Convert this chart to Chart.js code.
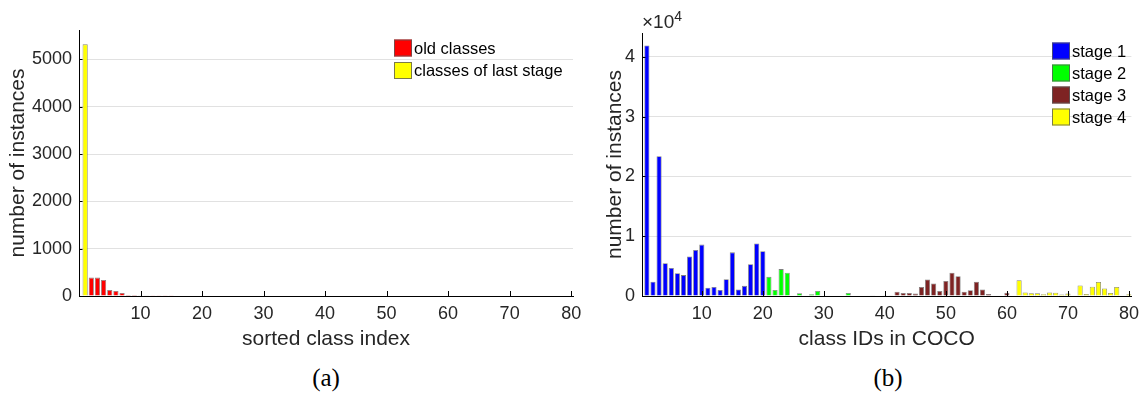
<!DOCTYPE html>
<html>
<head>
<meta charset="utf-8">
<script src="https://cdn.jsdelivr.net/npm/chart.js@4/dist/chart.umd.min.js"></script>
<style>
  body { margin: 0; background: #fff; width: 1146px; height: 398px; overflow: hidden; position: relative; font-family: "Liberation Sans", Arial, sans-serif; }
  .box { position: absolute; top: 0; height: 360px; }
  .cap { position: absolute; top: 364px; font: 25px "Liberation Serif", serif; color: #000; transform: translateX(-50%); }
  .exp { position: absolute; left: 642px; top: 8px; font-size: 19px; color: #262626; }
  .exp sup { font-size: 14px; }
</style>
</head>
<body>
<div class="box" style="left:0;width:590px"><canvas id="chartA"></canvas></div>
<div class="box" style="left:590px;width:556px"><canvas id="chartB"></canvas></div>
<div class="exp">×10<sup>4</sup></div>
<div class="cap" style="left:326px">(a)</div>
<div class="cap" style="left:888px">(b)</div>
<script>
// (a) sorted class index -> number of instances
const lastStageCounts = [5317];               // sorted index 1
const oldClassCounts = [389, 389, 339, 127, 106, 64, 21, 21, 7, 6, 5, 5, 4, 3,
  0, 0, 0, 0, 0, 0, 0, 0, 0, 0, 0, 0, 0, 0, 0, 0, 0, 0, 0, 0, 0, 0, 0, 0, 0, 0,
  0, 0, 0, 0, 0, 0, 0, 0, 0, 0, 0, 0, 0, 0, 0, 0, 0, 0, 0, 0, 0, 0, 0, 0, 0, 0,
  0, 0, 0, 0, 0, 0, 0, 0, 0, 0, 0, 0, 0];     // sorted index 2..80

// (b) class IDs in COCO -> number of instances
const stage1Counts = [41900, 2400, 23400, 5500, 4700, 3800, 3500, 6600, 7700, 8600,
  1400, 1500, 1000, 2800, 7300, 1100, 1700, 5300, 8800, 7500];   // ids 1-20
const stage2Counts = [3200, 1000, 4500, 3900, 100, 450, 100, 300, 850, 0,
  0, 0, 100, 500, 0, 0, 0, 50, 0, 50];                              // ids 21-40
const stage3Counts = [50, 700, 500, 500, 400, 1500, 2750, 2100, 850, 2500,
  3900, 3300, 700, 950, 2400, 1100, 350, 100, 100, 550];            // ids 41-60
const stage4Counts = [100, 2650, 600, 450, 450, 300, 600, 550, 250, 400,
  0, 1750, 350, 1550, 2350, 1250, 500, 1500, 0, 300];               // ids 61-80

const xTicks = [10, 20, 30, 40, 50, 60, 70, 80];
const yTicksA = [0, 1000, 2000, 3000, 4000, 5000];
const yTicksB = [0, 10000, 20000, 30000, 40000];

const FONT = '"Liberation Sans", Arial, sans-serif';
const TXT = '#262626';

function pts(values, firstId) {
  return values.map((v, i) => ({ x: firstId + i, y: v }));
}

function barSet(label, data, color, edge) {
  return {
    label, data,
    backgroundColor: color,
    borderColor: edge || 'rgba(95,95,95,0.8)',
    borderWidth: 0.8,
    borderSkipped: 'bottom',
    barPercentage: 0.84,
    categoryPercentage: 1,
    grouped: false
  };
}

// legend drawn inside the plot, top right like matlab
const boxLegend = {
  id: 'boxLegend',
  afterDraw(chart, args, o) {
    const ctx = chart.ctx;
    ctx.save();
    ctx.font = '16.5px ' + FONT;
    ctx.textBaseline = 'middle';
    chart.data.datasets.forEach((ds, i) => {
      const y = o.y + i * o.step;
      ctx.fillStyle = ds.backgroundColor;
      ctx.fillRect(o.x, y - 8.5, 18, 17);
      ctx.strokeStyle = 'rgba(90,90,90,0.8)';
      ctx.lineWidth = 1;
      ctx.strokeRect(o.x + 0.5, y - 8, 17, 16);
      ctx.fillStyle = '#000';
      ctx.fillText(ds.label, o.x + 20, y + 1);
    });
    ctx.restore();
  }
};

// inward tick marks
const inTicks = {
  id: 'inTicks',
  afterDatasetsDraw(chart) {
    const { ctx, scales: { x, y }, chartArea: a } = chart;
    ctx.save();
    ctx.strokeStyle = '#000';
    ctx.lineWidth = 1;
    ctx.beginPath();
    xTicks.forEach(v => {
      const px = Math.round(x.getPixelForValue(v)) + 0.5;
      ctx.moveTo(px, a.bottom);
      ctx.lineTo(px, a.bottom - 5);
    });
    y.ticks.forEach(t => {
      if (t.value === 0) return;
      const py = Math.round(y.getPixelForValue(t.value)) + 0.5;
      ctx.moveTo(a.left, py);
      ctx.lineTo(a.left + 3.5, py);
    });
    ctx.stroke();
    ctx.restore();
  }
};

function makeChart(id, datasets, opt) {
  return new Chart(document.getElementById(id), {
    type: 'bar',
    data: { datasets },
    options: {
      responsive: true,
      maintainAspectRatio: false,
      animation: false,
      layout: { padding: { top: opt.top, right: opt.right, left: 0, bottom: 0 } },
      plugins: {
        legend: { display: false },
        tooltip: { enabled: false },
        boxLegend: opt.legend
      },
      scales: {
        x: {
          type: 'linear',
          offset: false,
          min: opt.xmin,
          max: opt.xmax,
          afterBuildTicks: s => { s.ticks = xTicks.map(v => ({ value: v })); },
          afterFit: s => { s.height = 64; },
          grid: { display: false, drawTicks: false },
          border: { color: '#000', width: 1 },
          ticks: { color: TXT, font: { family: FONT, size: 18 }, padding: 7, maxRotation: 0 },
          title: { display: true, text: opt.xTitle, color: TXT, font: { family: FONT, size: 21 }, padding: { top: 0, bottom: 8 } }
        },
        y: {
          min: 0,
          max: opt.ymax,
          afterBuildTicks: s => { s.ticks = opt.yTicks.map(v => ({ value: v })); },
          afterFit: s => { s.width = opt.yWidth; },
          grid: { color: '#e1e1e1', drawTicks: false },
          border: { color: '#000', width: 1 },
          ticks: { color: TXT, font: { family: FONT, size: 18 }, padding: 7, callback: opt.yLabel },
          title: { display: true, text: 'number of instances', color: TXT, font: { family: FONT, size: 21 }, padding: { top: opt.yTitlePad, bottom: 0 } }
        }
      }
    },
    plugins: [boxLegend, inTicks]
  });
}

makeChart('chartA', [
  barSet('old classes', pts(oldClassCounts, 2), '#ff0000'),
  barSet('classes of last stage', pts(lastStageCounts, 1), '#ffff00', 'rgba(120,120,90,0.9)')
], {
  top: 30, right: 17, xmin: 0, xmax: 80.3, ymax: 5620, yTicks: yTicksA, yWidth: 79,
  yTitlePad: 6, xTitle: 'sorted class index', yLabel: v => v,
  legend: { x: 394, y: 48, step: 22.5 }
});

makeChart('chartB', [
  barSet('stage 1', pts(stage1Counts, 1), '#0000ff'),
  barSet('stage 2', pts(stage2Counts, 21), '#00ff00'),
  barSet('stage 3', pts(stage3Counts, 41), '#7e2323'),
  barSet('stage 4', pts(stage4Counts, 61), '#ffff00', 'rgba(120,120,90,0.9)')
], {
  top: 33, right: 11, xmin: 0.2, xmax: 80.4, ymax: 44000, yTicks: yTicksB, yWidth: 52,
  yTitlePad: 13, xTitle: 'class IDs in COCO', yLabel: v => v / 10000,
  legend: { x: 462, y: 51, step: 22 }
});
</script>
</body>
</html>
